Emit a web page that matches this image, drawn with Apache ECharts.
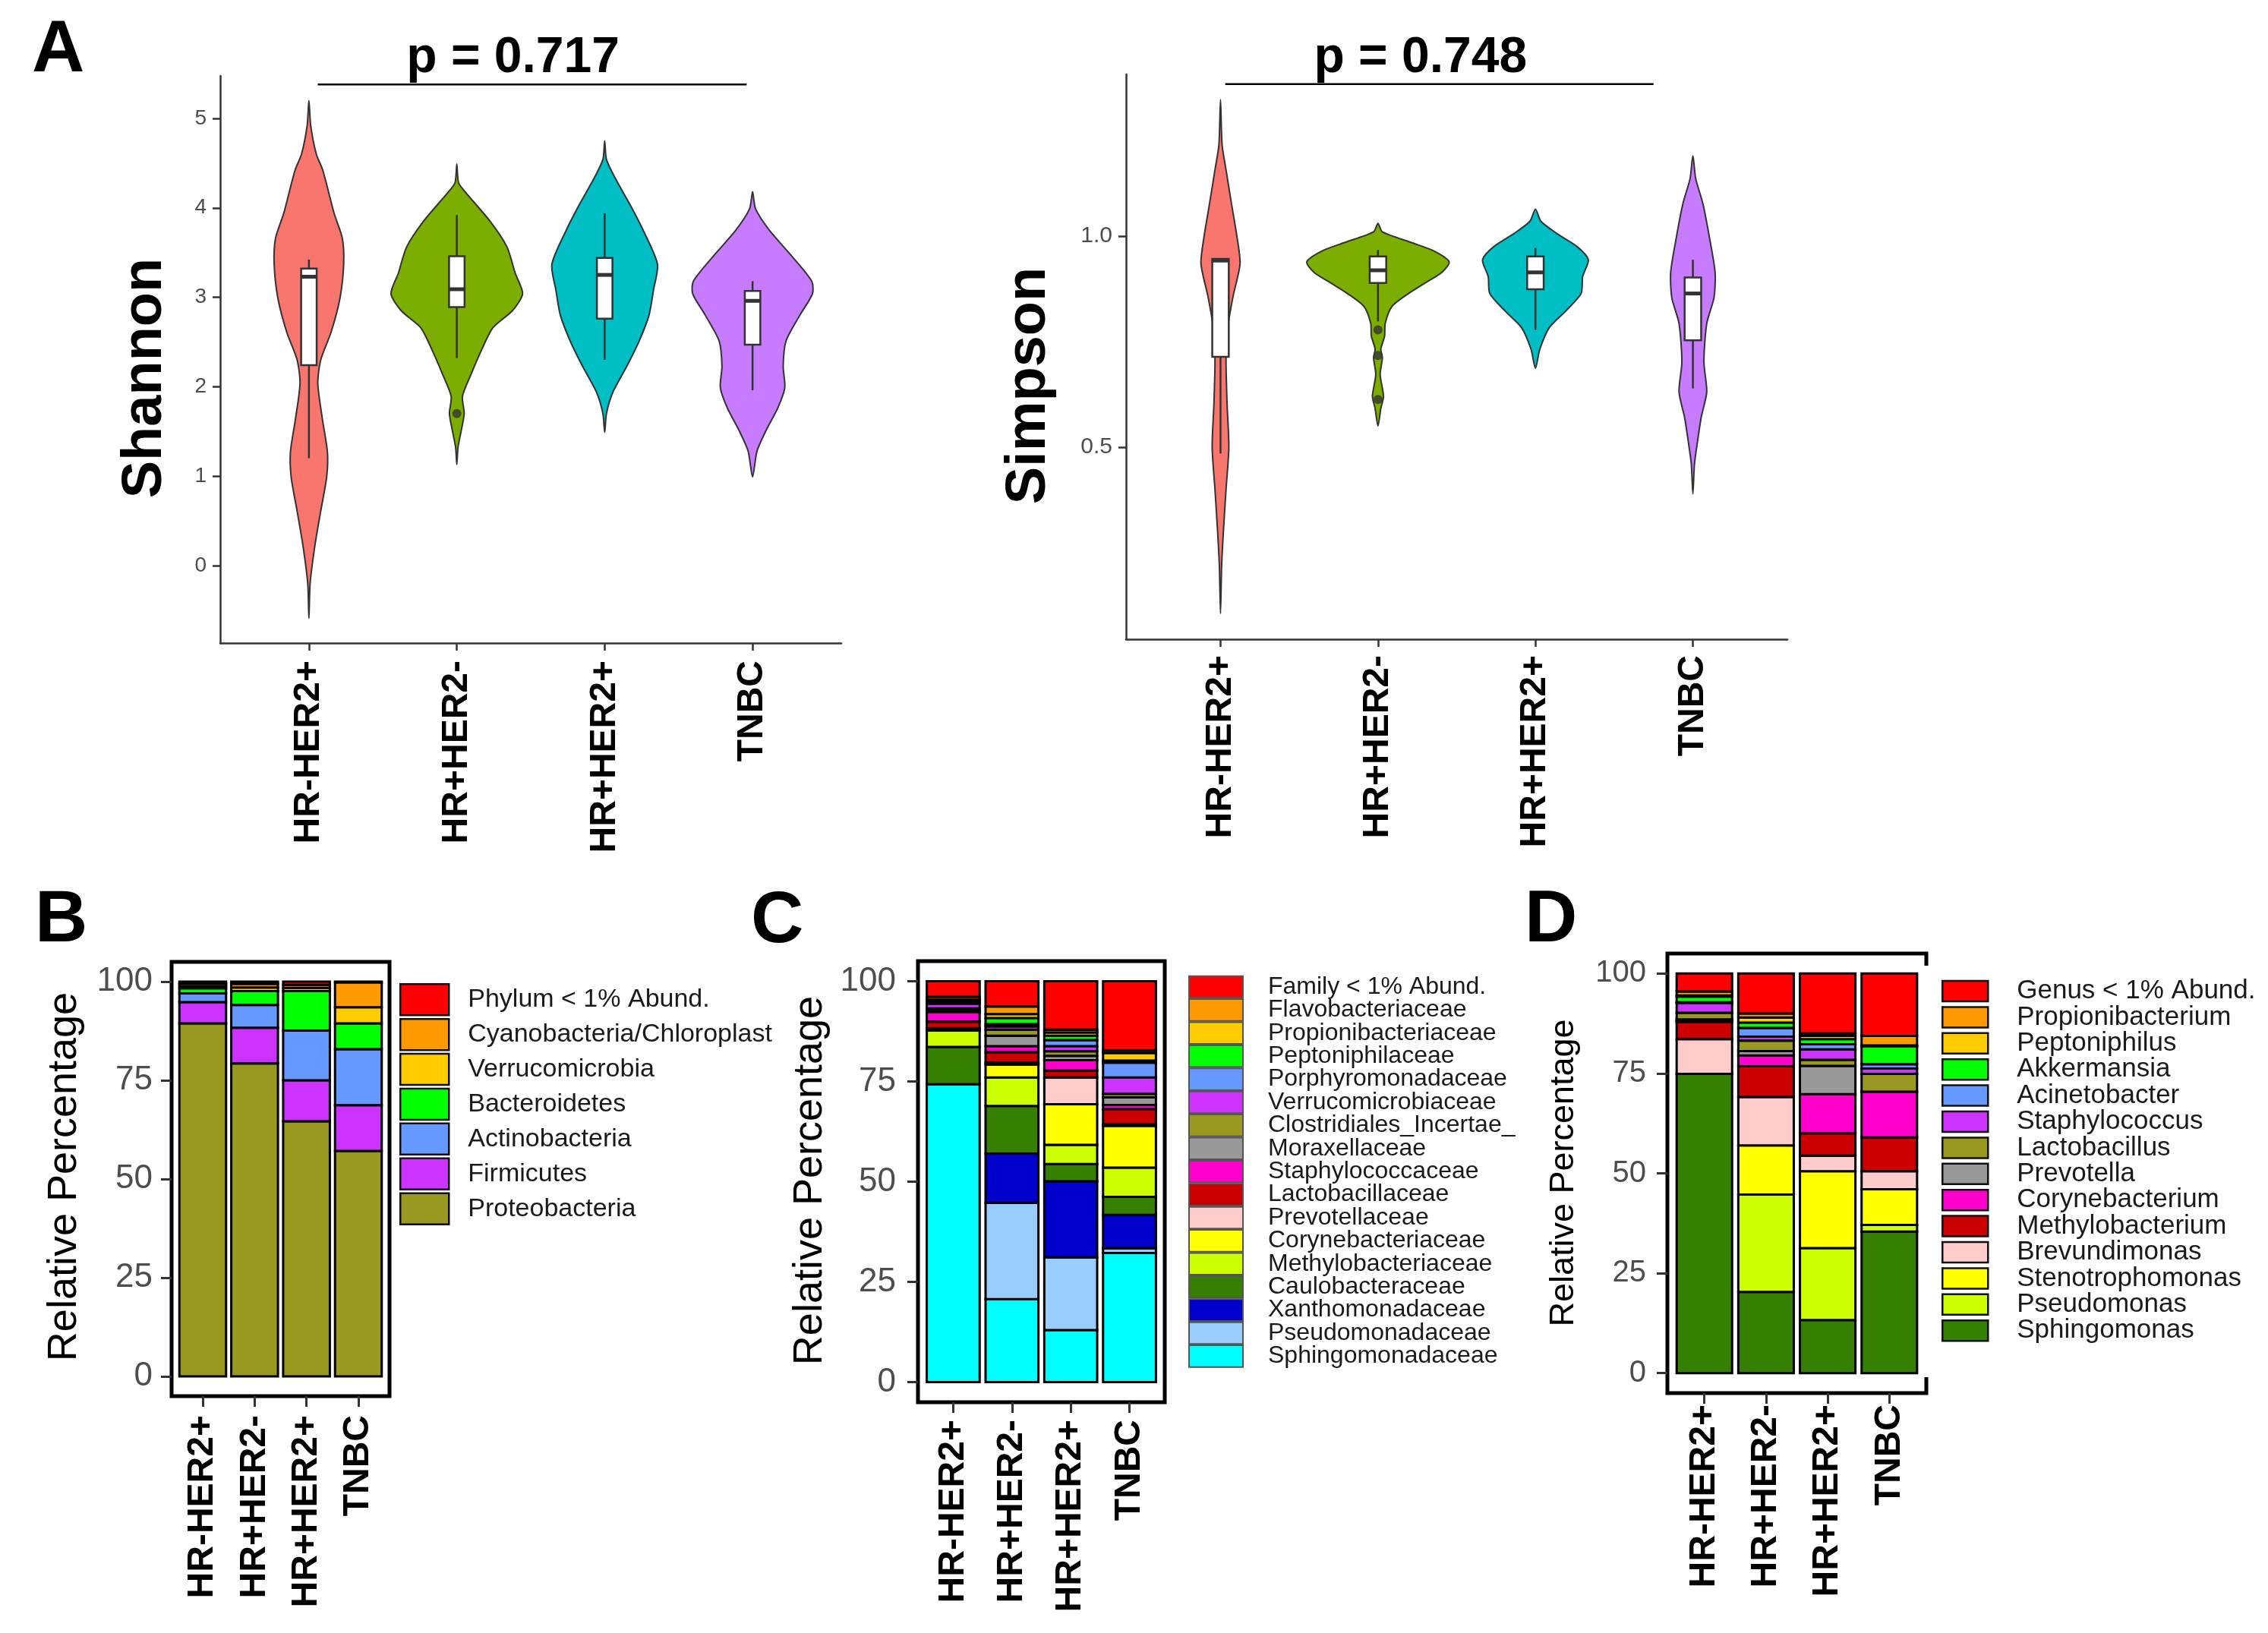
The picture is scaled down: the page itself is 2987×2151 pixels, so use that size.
<!DOCTYPE html>
<html>
<head>
<meta charset="utf-8">
<script src="https://cdn.jsdelivr.net/npm/echarts@6/dist/echarts.min.js"></script>
<style>
html,body{margin:0;padding:0;background:#fff;}
#chart{width:2987px;height:2151px;}
</style>
</head>
<body>
<div id="chart"></div>
<script>
// ---------------- DATA ----------------
const categories = ['HR-HER2+', 'HR+HER2-', 'HR+HER2+', 'TNBC'];
const violinColors = ['#F8766D', '#7CAE00', '#00BFC4', '#C77CFF'];

// violin density profiles: [value, half-width in category units]
const shannonRed = [[5.2,0],[4.92,0.012],[4.6,0.05],[4.42,0.094],[3.94,0.17],[3.66,0.226],[3.37,0.235],[2.99,0.21],[2.61,0.15],[2.3,0.08],[2.04,0.06],[1.65,0.09],[1.27,0.125],[0.99,0.12],[0.61,0.08],[0.22,0.04],[-0.2,0.008],[-0.59,0]];
const shannonGreen = [[4.49,0],[4.28,0.012],[4.18,0.056],[3.85,0.225],[3.56,0.34],[3.27,0.395],[3.04,0.445],[2.85,0.376],[2.66,0.244],[2.42,0.17],[2.13,0.094],[1.89,0.038],[1.70,0.05],[1.51,0.03],[1.32,0.008],[1.13,0]];
const shannonCyan = [[4.75,0],[4.54,0.012],[4.32,0.075],[4.04,0.17],[3.75,0.26],[3.37,0.357],[3.08,0.33],[2.80,0.30],[2.51,0.233],[2.23,0.15],[1.94,0.056],[1.70,0.012],[1.49,0]];
const shannonPurple = [[4.18,0],[3.99,0.02],[3.75,0.113],[3.47,0.26],[3.18,0.40],[3.04,0.405],[2.80,0.32],[2.51,0.226],[2.23,0.207],[1.99,0.218],[1.76,0.17],[1.52,0.094],[1.28,0.03],[0.99,0]];
const simpsonRed = [[1.323,0],[1.217,0.01],[1.157,0.035],[1.076,0.07],[0.995,0.106],[0.934,0.124],[0.854,0.078],[0.773,0.042],[0.702,0.035],[0.601,0.042],[0.50,0.053],[0.399,0.035],[0.298,0.018],[0.217,0.007],[0.106,0]];
const simpsonGreen = [[1.03,0],[1.01,0.028],[0.985,0.21],[0.965,0.353],[0.939,0.452],[0.914,0.406],[0.889,0.30],[0.864,0.194],[0.833,0.088],[0.793,0.046],[0.763,0.042],[0.732,0.018],[0.712,0.028],[0.672,0.014],[0.621,0.035],[0.591,0.018],[0.55,0]];
const simpsonCyan = [[1.064,0],[1.035,0.035],[1.005,0.14],[0.975,0.265],[0.944,0.336],[0.904,0.30],[0.864,0.29],[0.823,0.194],[0.783,0.088],[0.732,0.028],[0.687,0]];
const simpsonPurple = [[1.19,0],[1.136,0.018],[1.076,0.064],[0.995,0.106],[0.914,0.141],[0.854,0.134],[0.793,0.088],[0.702,0.07],[0.631,0.088],[0.571,0.053],[0.51,0.028],[0.46,0.01],[0.389,0]];

// box stats: [whisker low, Q1, median, Q3, whisker high]
const shannonBoxes = [[1.20,2.24,3.23,3.32,3.42],[2.32,2.89,3.09,3.46,3.92],[2.30,2.76,3.25,3.44,3.94],[1.96,2.47,2.96,3.07,3.18]];
const simpsonBoxes = [[0.485,0.714,0.942,0.946,0.947],[0.798,0.889,0.919,0.952,0.967],[0.778,0.874,0.914,0.952,0.972],[0.639,0.753,0.864,0.902,0.944]];
const shannonOutliers = [[2, 1.70]];
const simpsonOutliers = [[2, 0.778],[2, 0.717],[2, 0.613]];

const shannonTicks = [0, 1, 2, 3, 4, 5];
const simpsonTicks = [0.5, 1.0];
const pctTicks = [0, 25, 50, 75, 100];

const shannonP = 'p = 0.717';
const simpsonP = 'p = 0.748';
// [x start, x end, y, text x] in data units
const shannonSig = [1.06, 3.96, 5.38, 2.38];
const simpsonSig = [1.03, 3.75, 1.36, 2.27];

// Phylum (stack bottom -> top)
const phylumNames = ['Proteobacteria','Firmicutes','Actinobacteria','Bacteroidetes','Verrucomicrobia','Cyanobacteria/Chloroplast','Phylum < 1% Abund.'];
const phylumColors = ['#999922','#CC33FF','#6699FF','#00FF00','#FFCC00','#FF9900','#FF0000'];
const phylumValues = [
  [89.4,79.3,64.6,57.1],
  [5.4,9.0,10.4,11.6],
  [2.2,5.8,12.6,14.2],
  [1.3,3.5,10.0,6.5],
  [0.6,0.9,0.8,4.1],
  [0.6,0.9,0.8,6.3],
  [0.5,0.6,0.8,0.2]
];

// Family (stack bottom -> top)
const familyNames = ['Sphingomonadaceae','Pseudomonadaceae','Xanthomonadaceae','Caulobacteraceae','Methylobacteriaceae','Corynebacteriaceae','Prevotellaceae','Lactobacillaceae','Staphylococcaceae','Moraxellaceae','Clostridiales_Incertae_','Verrucomicrobiaceae','Porphyromonadaceae','Peptoniphilaceae','Propionibacteriaceae','Flavobacteriaceae','Family < 1% Abund.'];
const familyColors = ['#00FFFF','#99CCFF','#0000CC','#358000','#CCFF00','#FFFF00','#FFCCCC','#CC0000','#FF00CC','#999999','#999922','#CC33FF','#6699FF','#00FF00','#FFCC00','#FF9900','#FF0000'];
const familyValues = [
  [74.3,20.7,13.0,32.2],
  [0,24.0,18.1,1.2],
  [0,12.3,19.0,8.3],
  [9.3,11.9,4.3,4.5],
  [4.1,7.1,4.8,7.3],
  [0.2,3.2,10.1,10.4],
  [0.3,0.5,6.7,0.4],
  [1.7,2.6,1.7,3.8],
  [2.3,1.5,2.6,1.0],
  [0.4,2.6,1.1,1.9],
  [0.6,1.5,1.1,0.9],
  [1.2,0.8,1.3,4.1],
  [0.4,0.6,1.5,3.7],
  [0.4,1.5,1.1,0.5],
  [0.2,1.0,0.8,1.9],
  [0.7,1.9,0.7,0.6],
  [3.9,6.3,12.1,17.3]
];

// Genus (stack bottom -> top)
const genusNames = ['Sphingomonas','Pseudomonas','Stenotrophomonas','Brevundimonas','Methylobacterium','Corynebacterium','Prevotella','Lactobacillus','Staphylococcus','Acinetobacter','Akkermansia','Peptoniphilus','Propionibacterium','Genus < 1% Abund.'];
const genusColors = ['#358000','#CCFF00','#FFFF00','#FFCCCC','#CC0000','#FF00CC','#999999','#999922','#CC33FF','#6699FF','#00FF00','#FFCC00','#FF9900','#FF0000'];
const genusValues = [
  [74.9,20.3,13.3,35.4],
  [0,24.4,18.0,1.7],
  [0,12.3,19.2,8.9],
  [8.7,12.1,3.9,4.5],
  [4.3,7.7,5.6,8.5],
  [0.2,2.7,9.8,11.4],
  [0.4,1.1,7.1,0],
  [1.7,2.6,1.5,4.5],
  [2.4,1.0,2.6,1.3],
  [0.2,2.2,1.3,1.1],
  [1.4,1.3,1.3,4.5],
  [0.3,1.3,0.8,0.2],
  [1.0,1.0,0.6,2.4],
  [4.5,10.0,15.0,15.6]
];

// ---------------- CHART ----------------
const FONT = 'Liberation Sans, Arial, sans-serif';
const chart = echarts.init(document.getElementById('chart'), null, {renderer: 'canvas'});

function violinRender(profiles) {
  return function (params, api) {
    const prof = profiles[params.dataIndex];
    const c = api.value(0);
    const right = prof.map(p => api.coord([c + p[1], p[0]]));
    const left = prof.slice(1, prof.length - 1).reverse().map(p => api.coord([c - p[1], p[0]]));
    return {
      type: 'polygon',
      shape: {points: right.concat(left), smooth: 0.25},
      style: {fill: api.visual('color'), stroke: '#333', lineWidth: 2}
    };
  };
}
function boxRender(params, api) {
  const c = api.value(0);
  const lo = api.coord([c, api.value(1)]);
  const q1 = api.coord([c, api.value(2)]);
  const md = api.coord([c, api.value(3)]);
  const q3 = api.coord([c, api.value(4)]);
  const hi = api.coord([c, api.value(5)]);
  const bw = api.size([0.105, 0])[0];
  return {
    type: 'group',
    children: [
      {type: 'line', shape: {x1: lo[0], y1: lo[1], x2: hi[0], y2: hi[1]}, style: {stroke: '#333', lineWidth: 2.5}},
      {type: 'rect', shape: {x: q3[0] - bw / 2, y: q3[1], width: bw, height: q1[1] - q3[1]}, style: {fill: '#fff', stroke: '#333', lineWidth: 2.5}},
      {type: 'line', shape: {x1: md[0] - bw / 2, y1: md[1], x2: md[0] + bw / 2, y2: md[1]}, style: {stroke: '#333', lineWidth: 5}}
    ]
  };
}
function sigRender(label) {
  return function (params, api) {
    const p1 = api.coord([api.value(0), api.value(2)]);
    const p2 = api.coord([api.value(1), api.value(2)]);
    const pt = api.coord([api.value(3), api.value(2)]);
    return {
      type: 'group',
      children: [
        {type: 'line', shape: {x1: p1[0], y1: p1[1], x2: p2[0], y2: p2[1]}, style: {stroke: '#000', lineWidth: 2.5}},
        {type: 'text', x: pt[0], y: p1[1] - 34, style: {text: label, fontSize: 66, fontWeight: 'bold', fontFamily: FONT, fill: '#000', align: 'center', verticalAlign: 'middle', textAlign: 'center', textVerticalAlign: 'middle'}}
      ]
    };
  };
}
function barRender(params, api) {
  const x = api.value(0), s = api.value(1), e = api.value(2);
  if (!(e - s > 0)) return null;
  const top = api.coord([x, e]);
  const bot = api.coord([x, s]);
  const w = api.size([0.9, 0])[0];
  return {
    type: 'rect',
    shape: {x: top[0] - w / 2, y: top[1], width: w, height: bot[1] - top[1]},
    style: {fill: api.visual('color'), stroke: '#000', lineWidth: 3}
  };
}

const grids = [
  {left: 290, top: 100, width: 818, height: 747},
  {left: 1483, top: 98, width: 871, height: 744},
  {left: 226, top: 1267, width: 287, height: 572, show: true, borderColor: '#000', borderWidth: 5, backgroundColor: '#fff'},
  {left: 1209, top: 1266, width: 325, height: 581, show: true, borderColor: '#000', borderWidth: 5, backgroundColor: '#fff'},
  {left: 2196, top: 1256, width: 341, height: 579, show: true, borderColor: '#000', borderWidth: 5, backgroundColor: '#fff'}
];
const xMargins = [23, 21, 25, 23, 15];
const xAxes = grids.map((g, i) => ({
  type: 'value', gridIndex: i, min: 0.4, max: 4.6,
  splitLine: {show: false},
  axisLine: {show: i < 2, onZero: false, lineStyle: {color: '#333', width: 2.5}},
  axisTick: {show: true, customValues: [1, 2, 3, 4], length: i < 2 ? 10 : 14, lineStyle: {color: '#333', width: i < 2 ? 2.5 : 3}},
  axisLabel: {customValues: [1, 2, 3, 4], formatter: v => categories[Math.round(v) - 1], rotate: 90, fontSize: 48, fontWeight: 'bold', fontFamily: FONT, color: '#000', margin: xMargins[i]}
}));
function yAxisBase(i, min, max, ticks, fs, margin, fmt) {
  return {
    type: 'value', gridIndex: i, min: min, max: max,
    splitLine: {show: false},
    axisLine: {show: i < 2, onZero: false, lineStyle: {color: '#333', width: 2.5}},
    axisTick: {show: true, customValues: ticks, length: i < 2 ? 10 : 14, lineStyle: {color: '#333', width: i < 2 ? 2.5 : 3}},
    axisLabel: {customValues: ticks, fontSize: fs, fontFamily: FONT, color: '#4D4D4D', margin: margin, formatter: fmt}
  };
}
const yAxes = [
  yAxisBase(0, -0.866, 5.475, shannonTicks, 28, 18, v => String(v)),
  yAxisBase(1, 0.045, 1.383, simpsonTicks, 30, 18, v => v.toFixed(1)),
  yAxisBase(2, -5, 105, pctTicks, 44, 25, v => String(v)),
  yAxisBase(3, -5, 105, pctTicks, 44, 29, v => String(v)),
  yAxisBase(4, -5, 105, pctTicks, 40, 28, v => String(v))
];

const series = [];
function addViolinPlot(idx, profiles, boxes, outliers, sig, pLabel) {
  series.push({
    type: 'custom', xAxisIndex: idx, yAxisIndex: idx, renderItem: violinRender(profiles), z: 2,
    data: categories.map((c, j) => ({value: [j + 1], itemStyle: {color: violinColors[j]}}))
  });
  series.push({
    type: 'custom', xAxisIndex: idx, yAxisIndex: idx, renderItem: boxRender, z: 3,
    encode: {x: 0, y: [1, 2, 3, 4, 5]},
    data: boxes.map((b, j) => [j + 1].concat(b))
  });
  series.push({
    type: 'scatter', xAxisIndex: idx, yAxisIndex: idx, symbolSize: 12, z: 4,
    itemStyle: {color: '#333'}, data: outliers
  });
  series.push({
    type: 'custom', xAxisIndex: idx, yAxisIndex: idx, renderItem: sigRender(pLabel), z: 4,
    data: [sig]
  });
}
addViolinPlot(0, [shannonRed, shannonGreen, shannonCyan, shannonPurple], shannonBoxes, shannonOutliers, shannonSig, shannonP);
addViolinPlot(1, [simpsonRed, simpsonGreen, simpsonCyan, simpsonPurple], simpsonBoxes, simpsonOutliers, simpsonSig, simpsonP);

function addStack(idx, names, colors, values) {
  const cum = [0, 0, 0, 0];
  names.forEach((n, i) => {
    const data = categories.map((c, j) => {
      const s = cum[j];
      cum[j] = s + values[i][j];
      return [j + 1, s, cum[j]];
    });
    series.push({
      type: 'custom', name: n, xAxisIndex: idx, yAxisIndex: idx, renderItem: barRender,
      itemStyle: {color: colors[i]}, encode: {x: 0, y: [1, 2]}, data: data, z: 2
    });
  });
}
addStack(2, phylumNames, phylumColors, phylumValues);
addStack(3, familyNames, familyColors, familyValues);
addStack(4, genusNames, genusColors, genusValues);

function legendCfg(names, left, top, iw, ih, gap, fs, pad, bc, bw) {
  return {
    data: names.slice().reverse(), orient: 'vertical', left: left, top: top,
    itemWidth: iw, itemHeight: ih, itemGap: gap, icon: 'rect', selectedMode: false, padding: 0,
    itemStyle: {borderColor: bc, borderWidth: bw},
    textStyle: {fontSize: fs, fontFamily: FONT, color: '#1a1a1a', padding: [0, 0, 0, pad], lineHeight: ih}
  };
}

const letter = (t, x, y) => ({type: 'text', x: x, y: y, style: {text: t, fontSize: 96, fontWeight: 'bold', fontFamily: FONT, fill: '#000', align: 'left', verticalAlign: 'middle', textAlign: 'left', textVerticalAlign: 'middle'}});
const vtitle = (t, x, y, fs, bold) => ({type: 'text', x: x, y: y, rotation: Math.PI / 2, style: {text: t, fontSize: fs, fontWeight: bold ? 'bold' : 'normal', fontFamily: FONT, fill: '#000', align: 'center', verticalAlign: 'middle', textAlign: 'center', textVerticalAlign: 'middle'}});

const option = {
  animation: false,
  backgroundColor: '#fff',
  grid: grids,
  xAxis: xAxes,
  yAxis: yAxes,
  legend: [
    legendCfg(phylumNames, 526, 1295, 64, 41, 2.4, 34, 20, '#111', 2.5),
    legendCfg(familyNames, 1565, 1284, 71, 28.6, -1.6, 32, 28, '#555', 2),
    legendCfg(genusNames, 2557, 1288, 60, 27, -0.6, 35, 33, '#111', 2.5)
  ],
  series: series,
  graphic: [
    letter('A', 42, 68),
    letter('B', 46, 1214),
    letter('C', 989, 1215),
    letter('D', 2008, 1214),
    vtitle('Shannon', 192, 498, 74, true),
    vtitle('Simpson', 1356, 508, 74, true),
    vtitle('Relative Percentage', 85, 1550, 54, false),
    vtitle('Relative Percentage', 1067, 1555, 54, false),
    vtitle('Relative Percentage', 2060, 1545, 45, false),
    {type: 'rect', z: 100, shape: {x: 2530, y: 1272, width: 12, height: 542}, style: {fill: '#fff'}}
  ]
};
chart.setOption(option);
</script>
</body>
</html>
